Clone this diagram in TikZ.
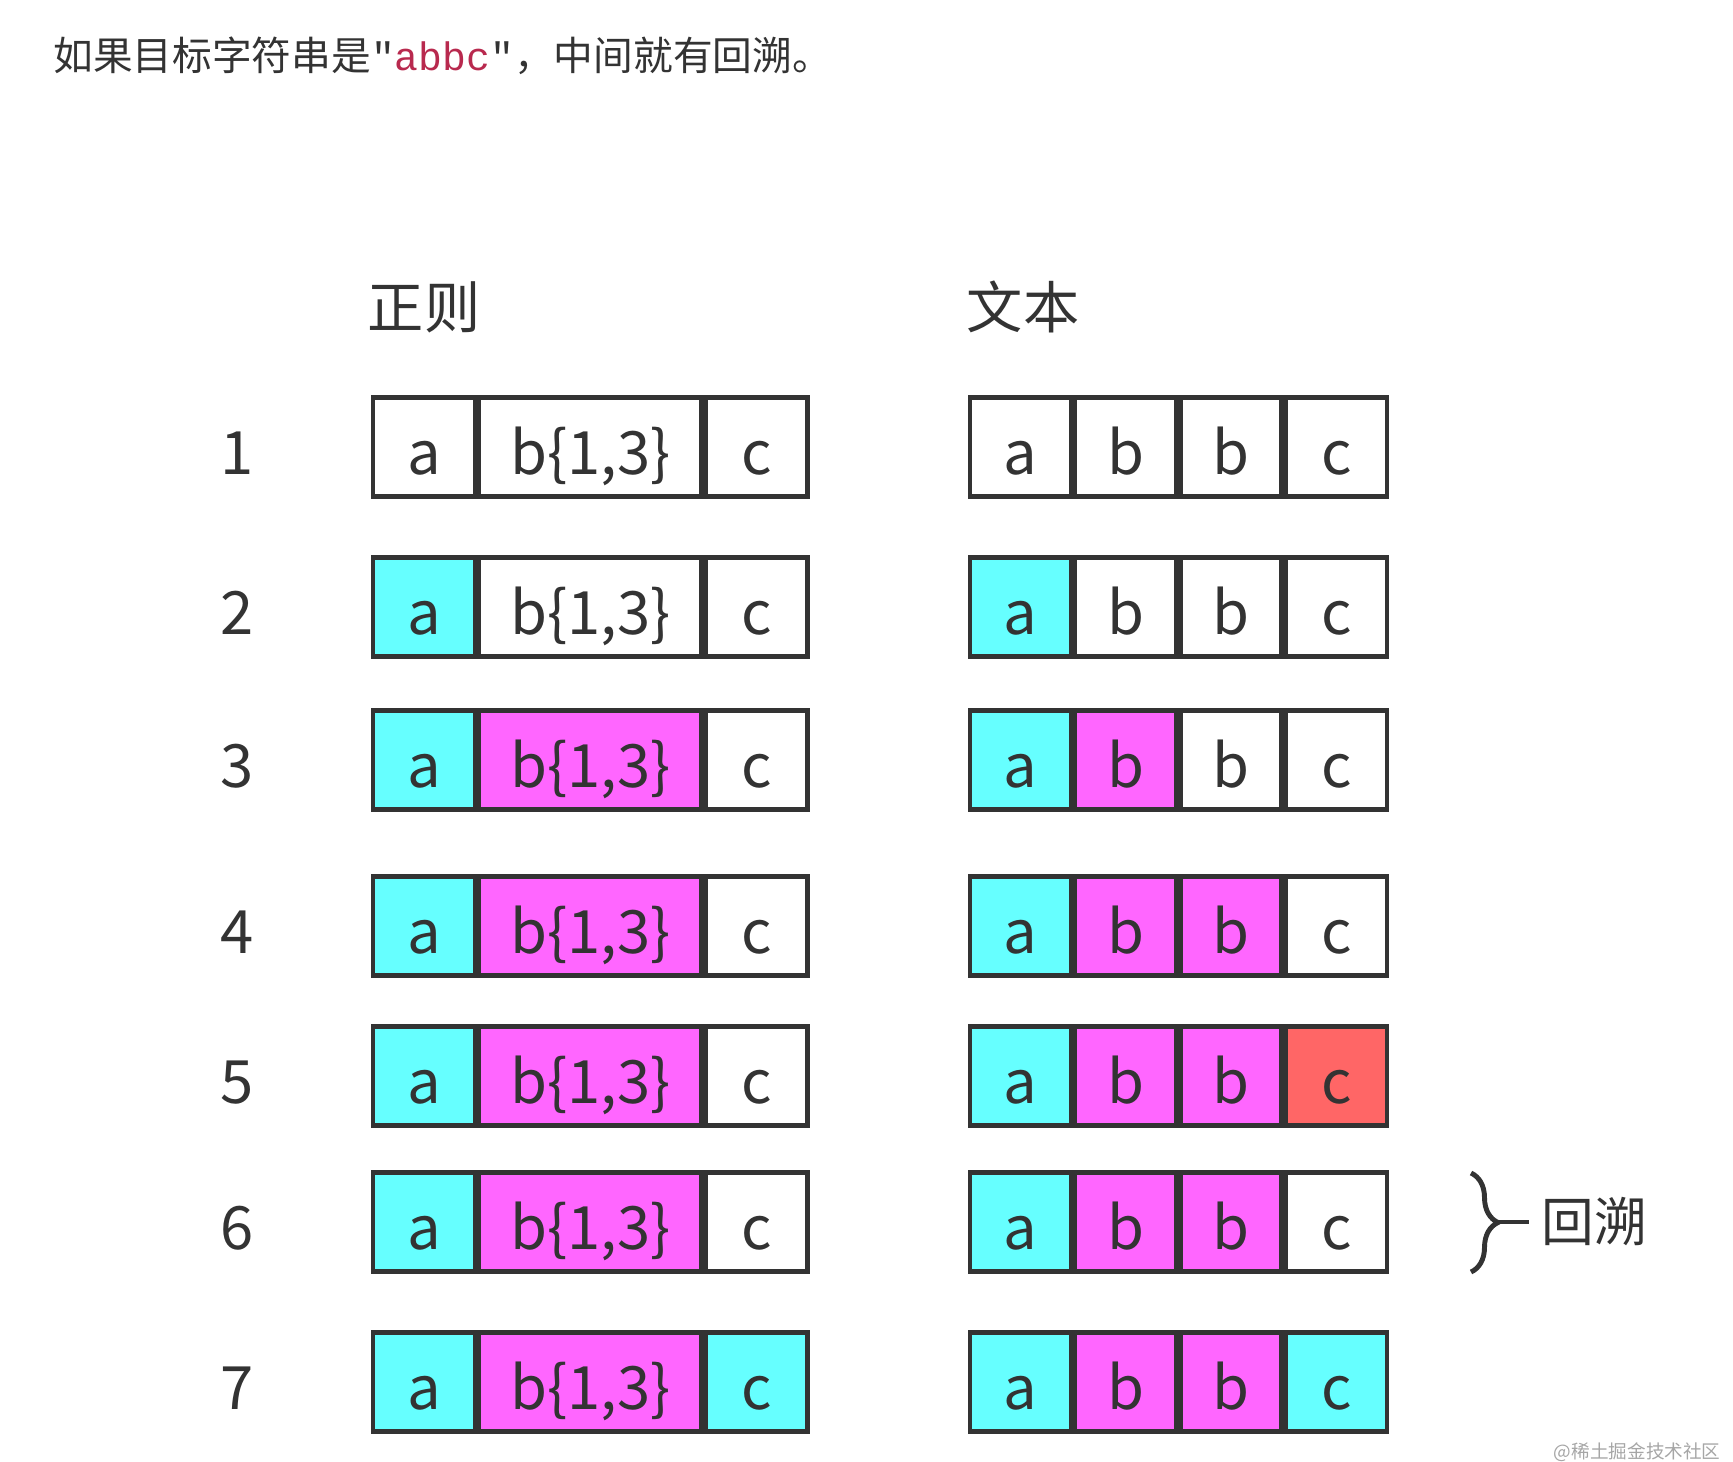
\documentclass[tikz,border=0pt]{standalone}
\usepackage{fontspec}
\setmainfont{Noto Sans CJK SC}
\newfontfamily\codefont{Liberation Mono}
\usetikzlibrary{positioning, decorations.pathreplacing}
\definecolor{cellcyan}{HTML}{66FFFF}
\definecolor{cellmag}{HTML}{FF66FF}
\definecolor{cellred}{HTML}{FF6666}
\definecolor{ink}{HTML}{333333}
\definecolor{codered}{HTML}{B8294E}
\tikzset{cell/.style={draw=ink, line width=1.2pt, minimum height=0.99cm, minimum width=1.01cm,
            inner sep=0pt, anchor=west, text=ink, font=\fontsize{17}{20}\selectfont,
            text height=0.62cm, text depth=0.08cm}}
\tikzset{rowlabel/.style={text=ink, font=\fontsize{17}{20}\selectfont, text height=0.62cm, text depth=0.08cm}}
\tikzset{title/.style={text=ink, font=\fontsize{16}{19}\selectfont}}

\begin{document}
\begin{tikzpicture}
        \useasboundingbox (0,0) rectangle (17.33,-14.61);
        \node[anchor=west, text=ink, font=\fontsize{11.3}{14}\selectfont] (head) at (0.41,-0.56)
            {如果目标字符串是{\codefont"\textcolor{codered}{abbc}"}，中间就有回溯。};
        \node[title] (regex) at (4.24,-3.07) {正则};
        \node[title] (text) at (10.23,-3.07) {文本};
        %
        \foreach \n/\y/\la/\lb/\lc/\ra/\rb/\rc/\rd in {
            1/4.47/white/white/white/white/white/white/white,
            2/6.07/cellcyan/white/white/cellcyan/white/white/white,
            3/7.60/cellcyan/cellmag/white/cellcyan/cellmag/white/white,
            4/9.26/cellcyan/cellmag/white/cellcyan/cellmag/cellmag/white,
            5/10.76/cellcyan/cellmag/white/cellcyan/cellmag/cellmag/cellred,
            6/12.22/cellcyan/cellmag/white/cellcyan/cellmag/cellmag/white,
            7/13.82/cellcyan/cellmag/cellcyan/cellcyan/cellmag/cellmag/cellcyan}{
            \node[rowlabel] (num\n) at (2.37,-\y) {\n};
            \node[cell, fill=\la, minimum width=1.02cm] (l\n-a) at (3.71,-\y) {a};
            \node[cell, fill=\lb, minimum width=2.22cm] (l\n-b) at (l\n-a.east) {b\{1,3\}};
            \node[cell, fill=\lc, minimum width=1.02cm] (l\n-c) at (l\n-b.east) {c};
            \node[cell, fill=\ra] (r\n-a) at (9.68,-\y) {a};
            \node[cell, fill=\rb] (r\n-b) at (r\n-a.east) {b};
            \node[cell, fill=\rc] (r\n-c) at (r\n-b.east) {b};
            \node[cell, fill=\rd] (r\n-d) at (r\n-c.east) {c};
        }
        %
        \coordinate (btop) at (14.71,-11.73);
        \coordinate (bbot) at (14.71,-12.72);
        \coordinate (btip) at (14.98,-12.22);
        \node[title, anchor=west, font=\fontsize{15}{18}\selectfont] (back) at (15.29,-12.22) {回溯};
        \draw[ink, line width=1.4pt, decorate, decoration={brace, amplitude=0.27cm}] (btop) -- (bbot);
        \draw[ink, line width=1.4pt] (btip) -- (back.west);
        %
        \node[anchor=east, text=gray!70, font=\fontsize{5.3}{7}\selectfont] (mark) at (17.33,-14.52) {@稀土掘金技术社区};
    \end{tikzpicture}
\end{document}
